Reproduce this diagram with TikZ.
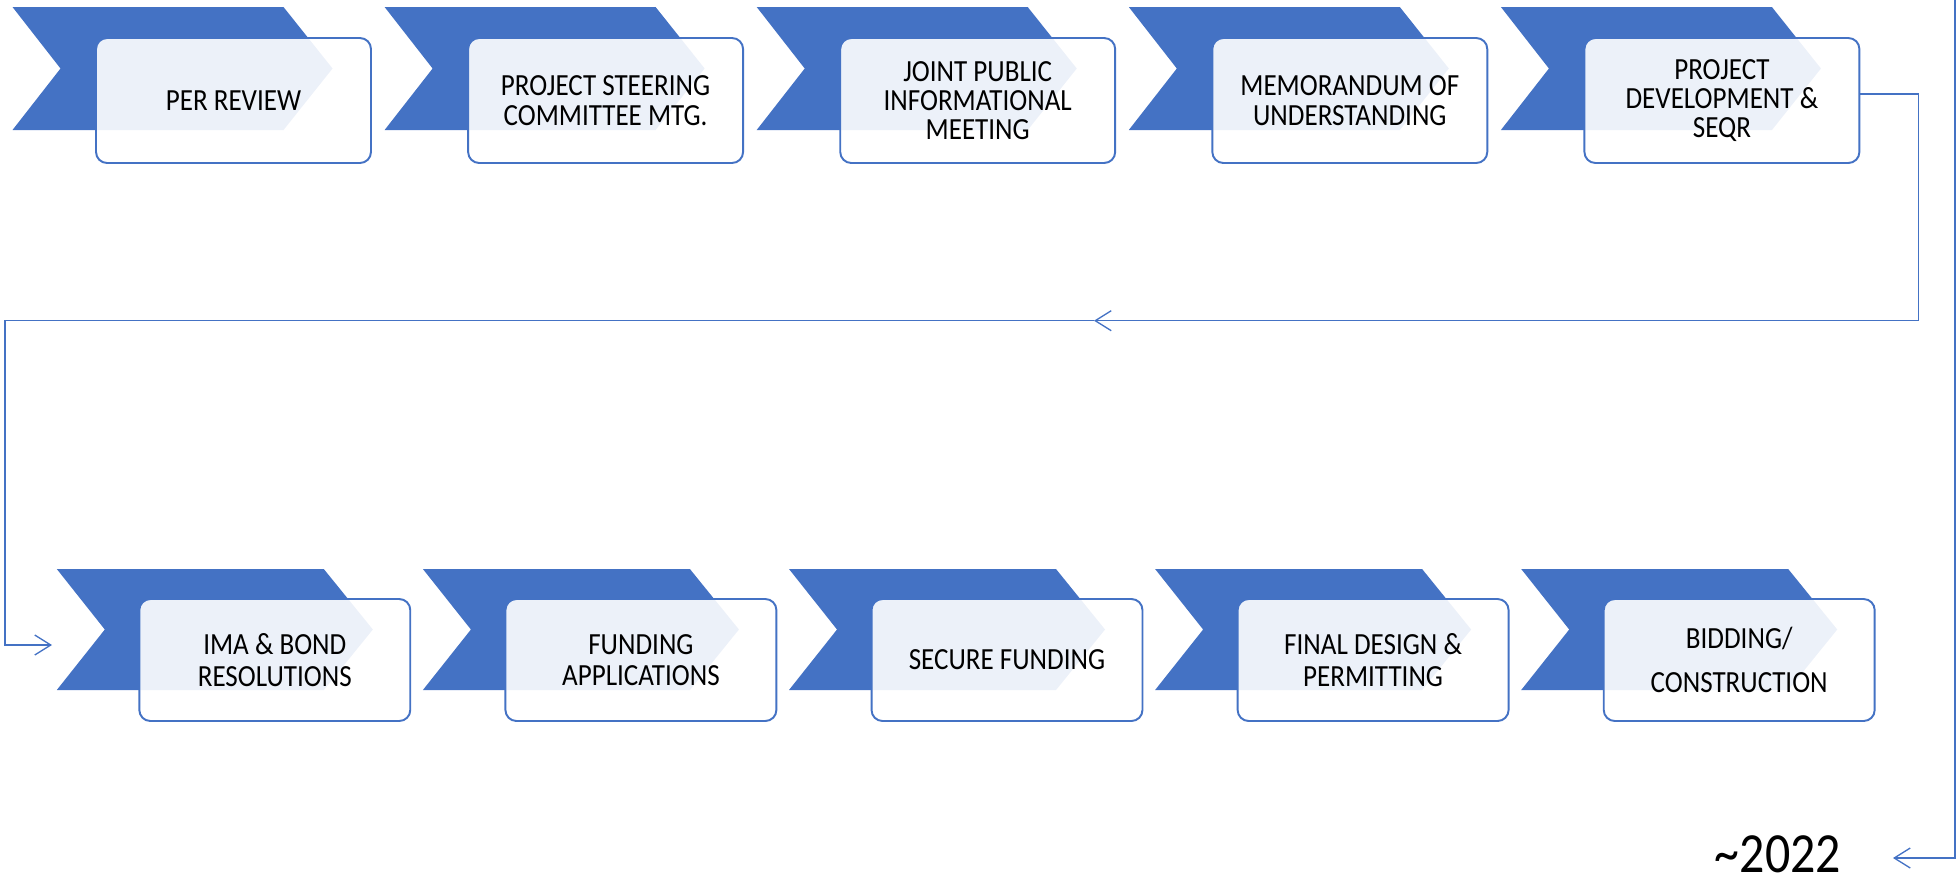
\documentclass[tikz,border=0pt]{standalone}
\usepackage{fontspec}
\setmainfont{Carlito}[FakeStretch=0.88]
\usetikzlibrary{arrows.meta}
\definecolor{chevblue}{HTML}{4472C4}
\tikzset{
  stepbox/.style={draw=chevblue, line width=1.1pt, fill=white, fill opacity=0.9, text opacity=1,
    rounded corners=0.22cm, align=center, inner sep=0pt, font=\fontsize{17.5}{16.7}\selectfont},
  link/.style={draw=chevblue, line width=0.75pt, -{Straight Barb[length=0.32cm,width=0.4cm]}}
}
\begin{document}
\begin{tikzpicture}[x=0.02cm,y=-0.02cm]
\useasboundingbox (0,0) rectangle (1958,887);
\foreach \i/\txt in {1/{PER REVIEW},2/{PROJECT STEERING\\COMMITTEE MTG.},3/{JOINT PUBLIC\\INFORMATIONAL\\MEETING},4/{MEMORANDUM OF\\UNDERSTANDING},5/{PROJECT\\DEVELOPMENT \&\\SEQR}} {
  \pgfmathsetmacro\x{96+(\i-1)*372.1}
  \fill[chevblue] (\x-83.5,7) -- ++(271,0) -- ++(49,61.5) -- ++(-49,61.5) -- ++(-271,0) -- ++(48,-61.5) -- cycle;
  \node[stepbox, minimum width=5.5cm, minimum height=2.5cm] (top\i) at (\x+137.5,100.5) {\txt};
}
\foreach \i/\txt in {1/{IMA \& BOND\\[1.2pt]RESOLUTIONS},2/{FUNDING\\[1.2pt]APPLICATIONS},3/{SECURE FUNDING},4/{FINAL DESIGN \&\\[1.2pt]PERMITTING},5/{BIDDING/\\[8.8pt]CONSTRUCTION}} {
  \pgfmathsetmacro\x{139.3+(\i-1)*366.1}
  \fill[chevblue] (\x-82.5,569) -- ++(267,0) -- ++(49,60.5) -- ++(-49,60.5) -- ++(-267,0) -- ++(48,-60.5) -- cycle;
  \node[stepbox, minimum width=5.42cm, minimum height=2.44cm] (bot\i) at (\x+135.5,660) {\txt};
}
\node[anchor=base, inner sep=0pt, font=\fontsize{32.3}{36}\selectfont] (year) at (1778,872) {\textasciitilde2022};
\coordinate (turn) at (1094,320.7);
\coordinate (in6) at (52,645);
\coordinate (topend) at (1955,0);
\coordinate (yearin) at (1893,858);
\draw[link] ([yshift=0.13cm]top5.east) -- ++(58,0) |- (turn);
\draw[link] (turn) -- ++(-1089,0) |- (in6);
\draw[link] (topend) |- (yearin);
\end{tikzpicture}
\end{document}
